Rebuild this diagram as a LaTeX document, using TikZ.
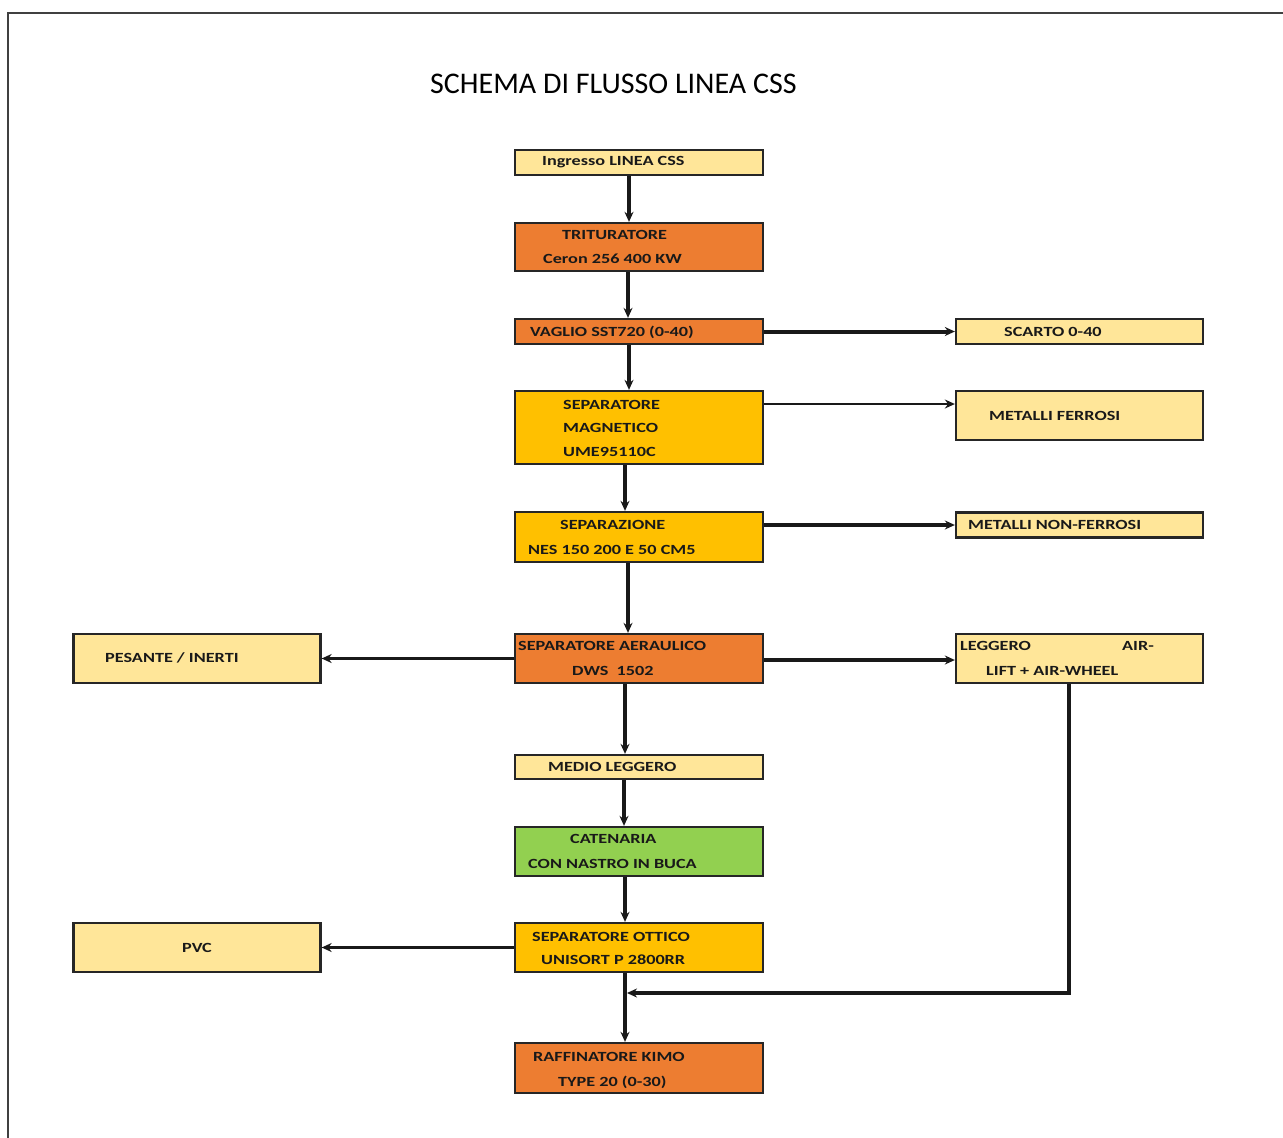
\documentclass[tikz,border=0pt]{standalone}
\usepackage{fontspec}
\setmainfont{Carlito}
\newfontfamily\wideface[FakeStretch=1.3]{Carlito}
\usetikzlibrary{arrows.meta}
\definecolor{paleyellow}{HTML}{FFE699}
\definecolor{burnt}{HTML}{ED7D31}
\definecolor{gold}{HTML}{FFC000}
\definecolor{leaf}{HTML}{92D050}
\begin{document}
\begin{tikzpicture}[x=1pt,y=-1pt,
  box/.style={draw=black!85, line width=2.3pt, rectangle, inner sep=0pt, minimum width=248pt},
  side/.style={box, minimum width=247pt},
  txt/.style={anchor=west, inner sep=0pt, font=\wideface\fontsize{14}{15}\selectfont\bfseries, text=black!90},
  arr/.style={line width=3.1pt, draw=black!90, -{Stealth[length=10pt,width=9pt]}},
]
\useasboundingbox (0,0) rectangle (1283,1138);
% page frame
\draw[line width=1.6pt, black!75] (8,1138) -- (8,13) -- (1283,13);
% title
\node[anchor=west, inner sep=0pt, font=\fontsize{30}{32}\selectfont] (title) at (430,84) {SCHEMA DI FLUSSO LINEA CSS};

% main column
\node[box, fill=paleyellow, minimum height=25pt] (ing) at (639,162.5) {};
\node[box, fill=burnt, minimum height=48pt] (tri) at (639,247) {};
\node[box, fill=burnt, minimum height=25pt] (vag) at (639,331.5) {};
\node[box, fill=gold, minimum height=73pt] (mag) at (639,427.5) {};
\node[box, fill=gold, minimum height=50pt] (nes) at (639,537) {};
\node[box, fill=burnt, minimum height=49pt] (aer) at (639,658.5) {};
\node[box, fill=paleyellow, minimum height=24pt] (med) at (639,767) {};
\node[box, fill=leaf, minimum height=49pt] (cat) at (639,851.5) {};
\node[box, fill=gold, minimum height=49pt] (ott) at (639,947.5) {};
\node[box, fill=burnt, minimum height=50pt] (raf) at (639,1068) {};

% right column
\node[side, fill=paleyellow, minimum height=25pt] (sca) at (1079.5,331.5) {};
\node[side, fill=paleyellow, minimum height=49pt] (fer) at (1079.5,415.5) {};
\node[side, fill=paleyellow, minimum height=25pt] (nfe) at (1079.5,525) {};
\node[side, fill=paleyellow, minimum height=49pt] (leg) at (1079.5,658.5) {};

% left column
\node[side, fill=paleyellow, minimum height=49pt] (pes) at (197,658.5) {};
\node[side, fill=paleyellow, minimum height=49pt] (pvc) at (197,947.5) {};

% labels
\node[txt] (ingT) at (542,162) {Ingresso LINEA CSS};
\node[txt] (triA) at (562,235) {TRITURATORE};
\node[txt] (triB) at (543,259) {Ceron 256 400 KW};
\node[txt] (vagT) at (530,332) {VAGLIO SST720 (0-40)};
\node[txt] (magA) at (563,405) {SEPARATORE};
\node[txt] (magB) at (563,428) {MAGNETICO};
\node[txt] (magC) at (563,452) {UME95110C};
\node[txt] (nesA) at (560,525) {SEPARAZIONE};
\node[txt] (nesB) at (528,550) {NES 150 200 E 50 CM5};
\node[txt] (aerA) at (518,646) {SEPARATORE AERAULICO};
\node[txt] (aerB) at (572,671) {DWS\ \ 1502};
\node[txt] (medT) at (548,767) {MEDIO LEGGERO};
\node[txt] (catA) at (570,839) {CATENARIA};
\node[txt] (catB) at (528,864) {CON NASTRO IN BUCA};
\node[txt] (ottA) at (532,937) {SEPARATORE OTTICO};
\node[txt] (ottB) at (541,960) {UNISORT P 2800RR};
\node[txt] (rafA) at (533,1057) {RAFFINATORE KIMO};
\node[txt] (rafB) at (558,1082) {TYPE 20 (0-30)};
\node[txt] (scaT) at (1004,332) {SCARTO 0-40};
\node[txt] (ferT) at (989,416) {METALLI FERROSI};
\node[txt] (nfeT) at (968,525) {METALLI NON-FERROSI};
\node[txt] (legA) at (960,646) {LEGGERO};
\node[txt] (legB) at (1122,646) {AIR-};
\node[txt] (legC) at (986,671) {LIFT + AIR-WHEEL};
\node[txt] (pesT) at (105,658) {PESANTE / INERTI};
\node[txt, anchor=center] (pvcT) at (197,948) {PVC};

% main flow
\draw[arr] ([xshift=-10pt]ing.south) -- ([xshift=-10pt]tri.north);
\draw[arr] ([xshift=-11pt]tri.south) -- ([xshift=-11pt]vag.north);
\draw[arr] ([xshift=-10pt]vag.south) -- ([xshift=-10pt]mag.north);
\draw[arr] ([xshift=-14pt]mag.south) -- ([xshift=-14pt]nes.north);
\draw[arr] ([xshift=-11pt]nes.south) -- ([xshift=-11pt]aer.north);
\draw[arr] ([xshift=-14pt]aer.south) -- ([xshift=-14pt]med.north);
\draw[arr] ([xshift=-15pt]med.south) -- ([xshift=-15pt]cat.north);
\draw[arr] ([xshift=-14pt]cat.south) -- ([xshift=-14pt]ott.north);
\draw[arr] ([xshift=-14pt]ott.south) -- ([xshift=-14pt]raf.north);

% side outputs
\draw[arr, line width=4pt] (vag.east) -- (sca.west);
\draw[arr, line width=2.6pt] ([yshift=23.5pt]mag.east) -- ([yshift=11.5pt]fer.west);
\draw[arr, line width=3.8pt] ([yshift=12pt]nes.east) -- (nfe.west);
\draw[arr] ([yshift=-1.5pt]aer.east) -- ([yshift=-1.5pt]leg.west);
\draw[arr] (aer.west) -- (pes.east);
\draw[arr] (ott.west) -- (pvc.east);

% light fraction returns to the refiner line
\coordinate (join) at (627,993);
\draw[arr] ([xshift=-10.5pt]leg.south) |- (join);
\end{tikzpicture}
\end{document}
